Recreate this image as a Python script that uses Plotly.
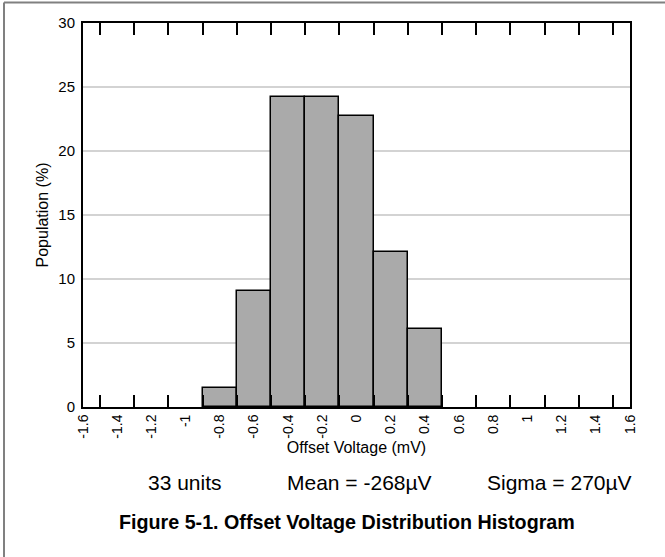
import plotly.graph_objects as go

# Data
bin_centers = [-0.8, -0.6, -0.4, -0.2, 0.0, 0.2, 0.4]
population = [1.52, 9.09, 24.24, 24.24, 22.73, 12.12, 6.06]
x_tick_vals = [-1.6, -1.4, -1.2, -1.0, -0.8, -0.6, -0.4, -0.2, 0.0, 0.2, 0.4, 0.6, 0.8, 1.0, 1.2, 1.4, 1.6]
x_tick_text = ["-1.6", "-1.4", "-1.2", "-1", "-0.8", "-0.6", "-0.4", "-0.2", "0", "0.2", "0.4", "0.6", "0.8", "1", "1.2", "1.4", "1.6"]
x_edge_ticks = [-1.5, -1.3, -1.1, -0.9, -0.7, -0.5, -0.3, -0.1, 0.1, 0.3, 0.5, 0.7, 0.9, 1.1, 1.3, 1.5]
y_tick_vals = [0, 5, 10, 15, 20, 25, 30]

FONT = "Liberation Sans, Arial, Helvetica, sans-serif"
W, H = 665, 557
L, R, T, B = 83, 35, 23, 150
pw, ph = W - L - R, H - T - B

def px_x(px):
    return (px - L) / pw

def px_y(py):
    return (H - B - py) / ph

fig = go.Figure()
fig.add_trace(go.Bar(
    x=bin_centers, y=population, width=0.2,
    marker=dict(color="#aaaaaa", line=dict(color="black", width=1.5)),
    showlegend=False, hoverinfo="x+y",
))

fig.update_layout(
    width=W, height=H,
    margin=dict(l=L, r=R, t=T, b=B, pad=0),
    paper_bgcolor="white", plot_bgcolor="white",
    font=dict(family=FONT, size=14, color="black"),
    bargap=0,
    xaxis=dict(
        range=[-1.6, 1.6],
        tickmode="array", tickvals=x_tick_vals, ticktext=x_tick_text,
        tickangle=-90, ticks="", ticklen=0,
        tickfont=dict(size=14),
        showgrid=False, zeroline=False,
        showline=True, linecolor="black", linewidth=2, mirror="allticks",
        minor=dict(tickmode="array", tickvals=x_edge_ticks, ticks="inside",
                   ticklen=12, tickwidth=2, tickcolor="black", showgrid=False),
        title=dict(text="Offset Voltage (mV)", font=dict(size=16), standoff=0),
        fixedrange=True,
    ),
    yaxis=dict(
        range=[0, 30],
        tickmode="array", tickvals=y_tick_vals,
        ticks="", tickfont=dict(size=15), ticklabelstandoff=3,
        showgrid=True, gridcolor="#d3d3d3", gridwidth=1.5,
        zeroline=False,
        showline=True, linecolor="black", linewidth=2, mirror=True,
        title=dict(text="Population (%)", font=dict(size=16), standoff=6),
        fixedrange=True,
    ),
    shapes=[
        dict(type="line", xref="paper", yref="paper",
             x0=px_x(4), x1=px_x(4), y0=px_y(H + 5), y1=px_y(2.5),
             line=dict(color="#808080", width=2)),
        dict(type="line", xref="paper", yref="paper",
             x0=px_x(4), x1=px_x(W + 5), y0=px_y(2.5), y1=px_y(2.5),
             line=dict(color="#808080", width=2)),
    ],
    annotations=[
        dict(text="33 units", xref="paper", yref="paper", x=px_x(185), y=px_y(482),
             showarrow=False, font=dict(size=21), xanchor="center", yanchor="middle"),
        dict(text="Mean = -268µV", xref="paper", yref="paper", x=px_x(360), y=px_y(482),
             showarrow=False, font=dict(size=21), xanchor="center", yanchor="middle"),
        dict(text="Sigma = 270µV", xref="paper", yref="paper", x=px_x(559), y=px_y(482),
             showarrow=False, font=dict(size=21), xanchor="center", yanchor="middle"),
        dict(text="<b>Figure 5-1. Offset Voltage Distribution Histogram</b>", xref="paper", yref="paper",
             x=px_x(346.5), y=px_y(522),
             showarrow=False, font=dict(size=19.7), xanchor="center", yanchor="middle"),
    ],
)

fig.write_html(
    "out.html",
    config={"displayModeBar": False},
    post_script="document.body.style.margin='0';document.body.style.padding='0';document.body.style.overflow='hidden';",
)
